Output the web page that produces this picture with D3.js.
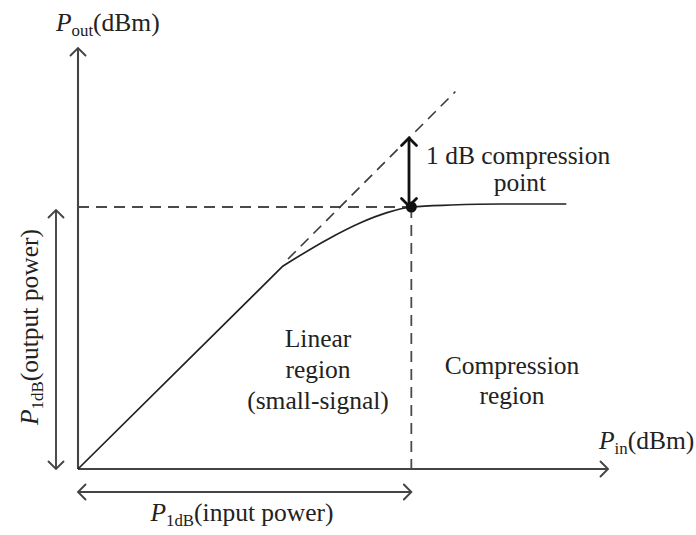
<!DOCTYPE html>
<html><head><meta charset="utf-8">
<script src="https://cdn.jsdelivr.net/npm/d3@7"></script>
<style>
html,body{margin:0;padding:0;background:#fff;}
svg text{font-family:"Liberation Serif","Times New Roman",serif;fill:#222;}
</style></head>
<body><svg id="c" width="696" height="535"></svg>
<script>
// ---- data (chart units, Pin -> Pout) ----
const curvePin  = [0, 6.15, 7.47, 8.46, 9.27, 10, 11.2, 12.7, 14.65];
const curvePout = [0, 6.09, 6.88, 7.38, 7.69, 7.86, 7.92, 7.95, 7.95];
const p1dbIn = 10;        // input 1 dB compression point
const p1dbOut = 7.86;     // output power at compression point
const tangentPin = [6.3, 11.32];   // extrapolated linear response (gain = 1)
const xMax = 15.9, yMax = 12.63;

const svg = d3.select("#c");
const x = d3.scaleLinear().domain([0, xMax]).range([78, 608]);
const y = d3.scaleLinear().domain([0, yMax]).range([469, 48]);

const defs = svg.append("defs");
function chevron(id, color, w) {
  defs.append("marker").attr("id", id)
    .attr("viewBox", "-12 -12 24 24").attr("markerUnits", "userSpaceOnUse")
    .attr("markerWidth", 24).attr("markerHeight", 24)
    .attr("refX", 0).attr("refY", 0).attr("orient", "auto-start-reverse")
    .append("path").attr("d", "M-7.5,-7.5L0,0L-7.5,7.5")
    .attr("fill", "none").attr("stroke", color).attr("stroke-width", w)
    .attr("stroke-linecap", "round").attr("stroke-linejoin", "miter");
}
chevron("ag", "#444", 1.9);
chevron("ab", "#111", 2.8);

// axes (no ticks)
const gx = svg.append("g").attr("transform", `translate(0,${y(0)})`)
  .call(d3.axisBottom(x).tickValues([]).tickSizeOuter(0));
gx.select(".domain").attr("stroke", "#444").attr("stroke-width", 2.1)
  .attr("d", `M${x(0)},0H${x(xMax)}`).attr("marker-end", "url(#ag)");
const gy = svg.append("g").attr("transform", `translate(${x(0)},0)`)
  .call(d3.axisLeft(y).tickValues([]).tickSizeOuter(0));
gy.select(".domain").attr("stroke", "#444").attr("stroke-width", 2.1)
  .attr("d", `M0,${y(0)}V${y(yMax)}`).attr("marker-end", "url(#ag)");

// dashed guides
const dash = "11,7";
svg.append("line").attr("x1", x(0)).attr("x2", x(p1dbIn))
  .attr("y1", y(p1dbOut)).attr("y2", y(p1dbOut))
  .attr("stroke", "#4a4a4a").attr("stroke-width", 1.8).attr("stroke-dasharray", dash);
svg.append("line").attr("x1", x(p1dbIn)).attr("x2", x(p1dbIn))
  .attr("y1", y(p1dbOut)).attr("y2", y(0))
  .attr("stroke", "#4a4a4a").attr("stroke-width", 1.8).attr("stroke-dasharray", dash);
svg.append("line").attr("x1", x(tangentPin[0])).attr("x2", x(tangentPin[1]))
  .attr("y1", y(tangentPin[0])).attr("y2", y(tangentPin[1]))
  .attr("stroke", "#3a3a3a").attr("stroke-width", 1.6).attr("stroke-dasharray", dash);

// response curve: straight linear region, then smooth compression
const pts = curvePin.map((v, i) => [v, curvePout[i]]);
const lin = d3.line().x(d => x(d[0])).y(d => y(d[1]));
const bend = lin.curve(d3.curveMonotoneX)(pts.slice(1));
svg.append("path")
  .attr("d", `M${x(pts[0][0])},${y(pts[0][1])}L` + bend.slice(1))
  .attr("fill", "none").attr("stroke", "#222").attr("stroke-width", 1.7);

// 1 dB arrow
svg.append("line").attr("x1", x(9.93)).attr("x2", x(9.93))
  .attr("y1", y(9.93)).attr("y2", y(p1dbOut) - 1)
  .attr("stroke", "#111").attr("stroke-width", 2.8)
  .attr("marker-start", "url(#ab)").attr("marker-end", "url(#ab)");
svg.append("circle").attr("cx", x(p1dbIn)).attr("cy", y(p1dbOut)).attr("r", 5.5).attr("fill", "#111");

// dimension arrows
svg.append("line").attr("x1", x(-0.66)).attr("x2", x(-0.66))
  .attr("y1", y(0)).attr("y2", y(p1dbOut) + 3)
  .attr("stroke", "#444").attr("stroke-width", 1.9)
  .attr("marker-start", "url(#ag)").attr("marker-end", "url(#ag)");
svg.append("line").attr("x1", x(0)).attr("x2", x(p1dbIn))
  .attr("y1", y(-0.69)).attr("y2", y(-0.69))
  .attr("stroke", "#444").attr("stroke-width", 1.9)
  .attr("marker-start", "url(#ag)").attr("marker-end", "url(#ag)");

// text
const FS = 25.5;
function subLabel(g, main, sub, rest) {
  const t = g.append("text").attr("font-size", FS);
  t.append("tspan").attr("font-style", "italic").text(main);
  t.append("tspan").attr("font-size", FS * 0.66).attr("dy", 5).text(sub);
  t.append("tspan").attr("dy", -5).text(rest);
  return t;
}
subLabel(svg, "P", "out", "(dBm)").attr("x", 56).attr("y", 31);
subLabel(svg, "P", "in", "(dBm)").attr("x", 599).attr("y", 449);
subLabel(svg, "P", "1dB", "(input power)").attr("x", 242).attr("y", 521).attr("text-anchor", "middle");
subLabel(svg, "P", "1dB", "(output power)")
  .attr("text-anchor", "middle").attr("transform", "translate(38,327) rotate(-90)");

function lines(txts, cx, y0, lh) {
  txts.forEach((s, i) => svg.append("text").attr("font-size", FS)
    .attr("text-anchor", "middle").attr("x", cx).attr("y", y0 + i * lh).text(s));
}
lines(["Linear", "region", "(small-signal)"], 318, 347, 31);
lines(["Compression", "region"], 512, 374, 30);
svg.append("text").attr("font-size", FS).attr("x", 426).attr("y", 164).text("1 dB compression");
lines(["point"], 520, 191, 0);
</script></body></html>
